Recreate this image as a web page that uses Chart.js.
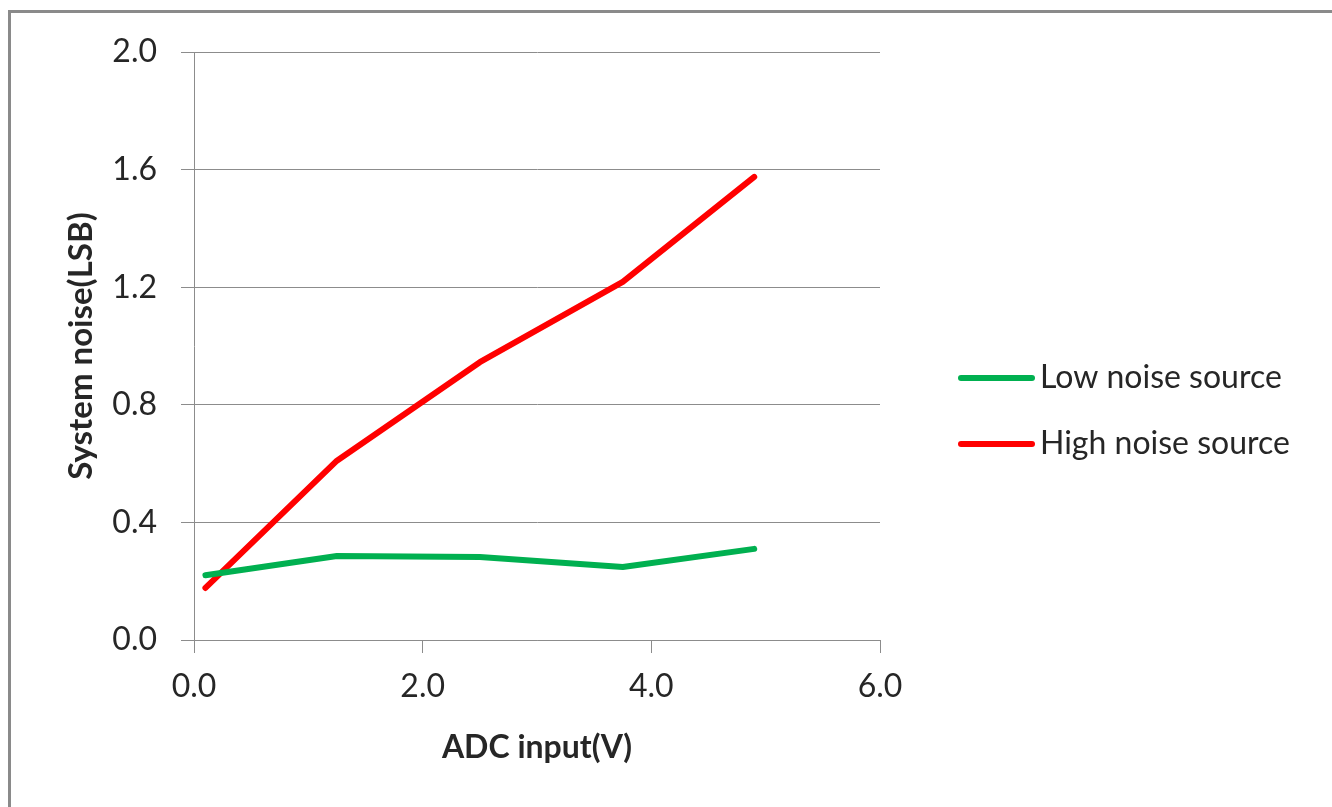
<!DOCTYPE html>
<html>
<head>
<meta charset="utf-8">
<script src="https://cdn.jsdelivr.net/npm/chart.js@4.4.1/dist/chart.umd.min.js"></script>
<style>
  html, body { margin: 0; padding: 0; background: #fff; }
  #frame { position: absolute; left: 8px; top: 10px; width: 1400px; height: 900px;
           border-left: 3px solid #8a8a8a; border-top: 3px solid #8a8a8a; }
  #myChart { position: absolute; left: 0; top: 0; }
</style>
</head>
<body>
<div id="frame"></div>
<canvas id="myChart" width="1332" height="807"></canvas>
<script>
// values
const adcInput = [0.1, 1.25, 2.5, 3.75, 4.9];
const lowNoise = [0.22, 0.286, 0.282, 0.248, 0.31];
const highNoise = [0.177, 0.61, 0.945, 1.218, 1.575];
const seriesNames = ['Low noise source', 'High noise source'];
const seriesColors = ['#00b050', '#ff0000'];
const xTicks = [0, 2, 4, 6];
const yTicks = [0, 0.4, 0.8, 1.2, 1.6, 2.0];

const gridColor = '#8c8c8c';
const textColor = '#262626';
const fontFamily = 'Lato, "Open Sans", sans-serif';

function points(ys) {
    return adcInput.map((x, i) => ({ x: x, y: ys[i] }));
}

// legend drawn by hand so it sits where the original one is
const sideLegend = {
    id: 'sideLegend',
    afterDraw(chart) {
        const ctx = chart.ctx;
        ctx.save();
        ctx.font = '32px ' + fontFamily;
        ctx.textBaseline = 'middle';
        ctx.fillStyle = textColor;
        chart.data.datasets.forEach((ds, i) => {
            const y = 378 + i * 66;
            ctx.strokeStyle = ds.borderColor;
            ctx.lineWidth = 6;
            ctx.lineCap = 'round';
            ctx.beginPath();
            ctx.moveTo(961, y);
            ctx.lineTo(1032, y);
            ctx.stroke();
            ctx.fillText(ds.label, 1040, y);
        });
        ctx.restore();
    }
};

const ctx = document.getElementById('myChart').getContext('2d');
new Chart(ctx, {
    type: 'line',
    data: {
        datasets: [
            { label: seriesNames[0], data: points(lowNoise), borderColor: seriesColors[0], backgroundColor: seriesColors[0] },
            { label: seriesNames[1], data: points(highNoise), borderColor: seriesColors[1], backgroundColor: seriesColors[1] }
        ]
    },
    options: {
        responsive: false,
        animation: false,
        layout: { padding: { top: 52, right: 452, bottom: 0, left: 0 } },
        elements: {
            line: { borderWidth: 6, borderCapStyle: 'round', borderJoinStyle: 'round', tension: 0 },
            point: { radius: 0, hoverRadius: 0 }
        },
        plugins: { legend: { display: false }, tooltip: { enabled: false } },
        scales: {
            x: {
                type: 'linear',
                min: 0, max: 6,
                afterFit: (scale) => { scale.height = 167; },
                afterBuildTicks: (scale) => { scale.ticks = xTicks.map(v => ({ value: v })); },
                grid: { drawOnChartArea: false, drawTicks: true, tickLength: 13, color: gridColor, lineWidth: 1 },
                border: { color: gridColor, width: 1 },
                ticks: { padding: 14, color: textColor, font: { family: fontFamily, size: 32 }, callback: v => v.toFixed(1) },
                title: { display: true, text: 'ADC input(V)', color: textColor, padding: { top: 0, bottom: 40 },
                         font: { family: fontFamily, size: 32, weight: 'bold' } }
            },
            y: {
                min: 0, max: 2,
                afterFit: (scale) => { scale.width = 194; },
                afterBuildTicks: (scale) => { scale.ticks = yTicks.map(v => ({ value: v })); },
                grid: { drawTicks: true, tickLength: 13, color: gridColor, lineWidth: 1 },
                border: { color: gridColor, width: 1 },
                ticks: { padding: 24, color: textColor, font: { family: fontFamily, size: 32 }, callback: v => v.toFixed(1) },
                title: { display: true, text: 'System noise(LSB)', color: textColor, padding: { top: 62, bottom: 0 },
                         font: { family: fontFamily, size: 33, weight: 'bold' } }
            }
        }
    },
    plugins: [sideLegend]
});
</script>
</body>
</html>
